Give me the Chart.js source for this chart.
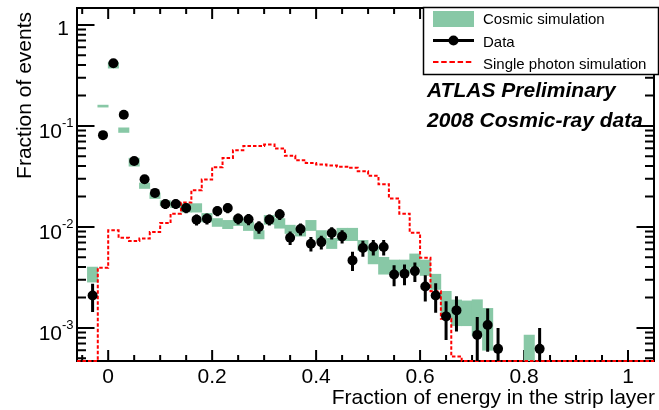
<!DOCTYPE html>
<html>
<head>
<meta charset="utf-8">
<script src="https://cdn.jsdelivr.net/npm/chart.js@4.4.1/dist/chart.umd.min.js"></script>
<style>
  html, body { margin: 0; padding: 0; background: #fff; }
  #wrap { width: 659px; height: 410px; }
</style>
</head>
<body>
<div id="wrap"><canvas id="stripCanvas" width="659" height="410"></canvas></div>
<script>
// Data points (bin centres), values and stat. errors
const dataX = [-0.03, -0.01, 0.01, 0.03, 0.05, 0.07, 0.09, 0.11, 0.13, 0.15,
    0.17, 0.19, 0.21, 0.23, 0.25, 0.27, 0.29, 0.31, 0.33, 0.35,
    0.37, 0.39, 0.41, 0.43, 0.45, 0.47, 0.49, 0.51, 0.53, 0.55,
    0.57, 0.59, 0.61, 0.63, 0.65, 0.67, 0.71, 0.73, 0.75, 0.83]
const dataY = [0.00209, 0.081, 0.417, 0.1288, 0.045, 0.0296, 0.0217, 0.01685, 0.01685, 0.01538,
    0.0118, 0.01207, 0.01436, 0.01538, 0.01207, 0.01188, 0.00996, 0.0118, 0.01332, 0.00782,
    0.00952, 0.00682, 0.00707, 0.00869, 0.00805, 0.00466, 0.00617, 0.00631, 0.00631, 0.00338,
    0.00344, 0.00365, 0.00257, 0.00209, 0.0013, 0.00149, 0.000852, 0.00107, 0.00062, 0.00062]
const dataErr = [0.00065, 0.004, 0.009, 0.005, 0.003, 0.0024, 0.002, 0.0018, 0.0018, 0.0017,
    0.0015, 0.0015, 0.0016, 0.0017, 0.0015, 0.0015, 0.0014, 0.0015, 0.0016, 0.0012,
    0.0013, 0.0011, 0.0011, 0.0012, 0.0012, 0.001, 0.0011, 0.0011, 0.0011, 0.0008,
    0.0008, 0.0008, 0.00075, 0.00068, 0.00054, 0.00057, 0.00043, 0.00049, 0.00038, 0.00038]

// Cosmic simulation band (bin centre, value, half height)
const simX = [-0.03, -0.01, 0.01, 0.03, 0.05, 0.07, 0.09, 0.11, 0.13, 0.15,
    0.17, 0.19, 0.21, 0.23, 0.25, 0.27, 0.29, 0.31, 0.33, 0.35,
    0.37, 0.39, 0.41, 0.43, 0.45, 0.47, 0.49, 0.51, 0.53, 0.55,
    0.57, 0.59, 0.61, 0.63, 0.65, 0.67, 0.69, 0.71, 0.73, 0.81]
const simY = [0.00342, 0.157, 0.40, 0.0909, 0.0439, 0.0256, 0.0204, 0.0172, 0.0165, 0.0155,
    0.0155, 0.0124, 0.0111, 0.0106, 0.0113, 0.0102, 0.0084, 0.0118, 0.0109, 0.0095,
    0.0089, 0.0104, 0.0083, 0.0069, 0.0085, 0.0085, 0.0066, 0.0053, 0.0042, 0.0041,
    0.0041, 0.0047, 0.0040, 0.0029, 0.0018, 0.00147, 0.00145, 0.00137, 0.00108, 0.00048]
const simErr = [0.00058, 0.0036, 0.027, 0.0048, 0.004, 0.0016, 0.0013, 0.001, 0.001, 0.0015,
    0.0015, 0.0012, 0.001, 0.001, 0.001, 0.001, 0.0008, 0.0012, 0.0012, 0.0009,
    0.0008, 0.0012, 0.0009, 0.0008, 0.0012, 0.0012, 0.00075, 0.001, 0.0008, 0.0006,
    0.0006, 0.0007, 0.0007, 0.0005, 0.0005, 0.00042, 0.0004, 0.00053, 0.00048, 0.00037]

// Single photon simulation, left bin edges and contents
const photonEdges = [-0.06, -0.04, -0.02, 0, 0.02, 0.04, 0.06, 0.08, 0.10, 0.12,
    0.14, 0.16, 0.18, 0.20, 0.22, 0.24, 0.26, 0.28, 0.30, 0.32,
    0.34, 0.36, 0.38, 0.40, 0.42, 0.44, 0.46, 0.48, 0.50, 0.52,
    0.54, 0.56, 0.58, 0.60, 0.62, 0.64, 0.66, 0.68, 0.70, 0.72,
    0.74, 0.76, 0.78, 0.80, 0.82, 0.84, 0.86, 0.88, 0.90, 0.92,
    0.94, 0.96, 0.98, 1.00, 1.02, 1.04]
const photonY = [0, 0, 0.00394, 0.00924, 0.00782, 0.00724, 0.00769, 0.00889, 0.0109, 0.01353,
    0.0174, 0.02305, 0.02943, 0.039, 0.0481, 0.0575, 0.0634, 0.0634, 0.0655, 0.0598,
    0.0505, 0.0457, 0.043, 0.0414, 0.0405, 0.0393, 0.0384, 0.0356, 0.032, 0.0264,
    0.0191, 0.01353, 0.00877, 0.00495, 0.00231, 0.00123, 0.00052, 0, 0, 0,
    0, 0, 0, 0, 0, 0, 0, 0, 0, 0,
    0, 0, 0, 0, 0, 0]
const binWidth = 0.02

// Axes
const xMin = -0.06, xMax = 1.05
const yMin = 0.00047, yMax = 1.47
const xMajorTicks = [0, 0.2, 0.4, 0.6, 0.8, 1]
const xTickLabels = ['0', '0.2', '0.4', '0.6', '0.8', '1']
const yMajorTicks = [0.001, 0.01, 0.1, 1]
const yTickLabels = [['10', '-3'], ['10', '-2'], ['10', '-1'], ['1', '']]

const simColor = '#88c8a6'
const photonColor = '#ff0000'
const font = '"Liberation Sans", Arial, Helvetica, sans-serif'

const simBars = simX.map((x, i) => ({ x: x, y: [simY[i] - simErr[i], simY[i] + simErr[i]] }))
const photonLine = photonEdges.map((x, i) => ({ x: x, y: photonY[i] > 0 ? photonY[i] : yMin }))
photonLine.push({ x: photonEdges[photonEdges.length - 1] + binWidth, y: photonLine[photonLine.length - 1].y })
const dataPoints = dataX.map((x, i) => ({ x: x, y: dataY[i] }))

const frameAndTicks = {
    id: 'frameAndTicks',
    beforeDatasetsDraw(chart) {
        const { ctx, chartArea: a, scales: { x, y } } = chart
        ctx.save()
        ctx.strokeStyle = '#000'
        ctx.lineWidth = 2
        ctx.strokeRect(a.left, a.top, a.right - a.left, a.bottom - a.top)

        ctx.beginPath()
        for (let k = -1; k <= 21; k++) {
            const v = k * 0.05
            if (v < xMin || v > xMax) continue
            const px = x.getPixelForValue(v)
            const len = (k % 4 === 0) ? 11 : 6
            ctx.moveTo(px, a.bottom); ctx.lineTo(px, a.bottom - len)
            ctx.moveTo(px, a.top); ctx.lineTo(px, a.top + len)
        }
        for (let e = -4; e <= 0; e++) {
            for (let m = 1; m <= 9; m++) {
                const v = m * Math.pow(10, e)
                if (v < yMin || v > yMax) continue
                const py = y.getPixelForValue(v)
                const len = m === 1 ? 17.5 : 9
                ctx.moveTo(a.left, py); ctx.lineTo(a.left + len, py)
                ctx.moveTo(a.right, py); ctx.lineTo(a.right - len, py)
            }
        }
        ctx.stroke()
        ctx.restore()
    }
}

const errorBars = {
    id: 'errorBars',
    afterDatasetsDraw(chart) {
        const { ctx, chartArea: a, scales: { x, y } } = chart
        ctx.save()
        ctx.beginPath()
        ctx.rect(a.left, a.top, a.right - a.left, a.bottom - a.top)
        ctx.clip()
        ctx.strokeStyle = '#000'
        ctx.lineWidth = 3
        ctx.beginPath()
        dataX.forEach((v, i) => {
            const px = x.getPixelForValue(v)
            const top = y.getPixelForValue(dataY[i] + dataErr[i])
            const lo = dataY[i] - dataErr[i]
            const bottom = lo > 0 ? y.getPixelForValue(lo) : a.bottom + 5
            ctx.moveTo(px, top); ctx.lineTo(px, bottom)
        })
        ctx.stroke()
        ctx.restore()
    }
}

const labelsAndLegend = {
    id: 'labelsAndLegend',
    afterDraw(chart) {
        const { ctx, chartArea: a, scales: { x, y } } = chart
        ctx.save()
        ctx.fillStyle = '#000'

        // x tick labels
        ctx.font = '21px ' + font
        ctx.textAlign = 'center'
        ctx.textBaseline = 'alphabetic'
        xMajorTicks.forEach((v, i) => ctx.fillText(xTickLabels[i], x.getPixelForValue(v), 383))

        // y tick labels
        yMajorTicks.forEach((v, i) => {
            const py = y.getPixelForValue(v)
            const [base, sup] = yTickLabels[i]
            if (!sup) {
                ctx.font = '21px ' + font
                ctx.textAlign = 'right'
                ctx.fillText(base, 69, py + 10)
                return
            }
            ctx.font = '13px ' + font
            ctx.textAlign = 'left'
            ctx.fillText(sup, 62, py + 1)
            ctx.font = '21px ' + font
            ctx.textAlign = 'right'
            ctx.fillText(base, 62, py + 12)
        })

        // axis titles
        ctx.font = '21px ' + font
        ctx.textAlign = 'right'
        ctx.fillText('Fraction of energy in the strip layer', 655, 404)
        ctx.save()
        ctx.translate(31, 12)
        ctx.rotate(-Math.PI / 2)
        ctx.textAlign = 'right'
        ctx.fillText('Fraction of events', 0, 0)
        ctx.restore()

        // legend box
        ctx.fillStyle = '#fff'
        ctx.fillRect(423.5, 7.5, 235, 67)
        ctx.strokeStyle = '#000'
        ctx.lineWidth = 1.5
        ctx.strokeRect(423.5, 7.5, 235, 67)

        ctx.fillStyle = simColor
        ctx.fillRect(433, 11, 41, 16)

        ctx.strokeStyle = '#000'
        ctx.lineWidth = 3
        ctx.beginPath(); ctx.moveTo(433, 40.5); ctx.lineTo(474, 40.5); ctx.stroke()
        ctx.fillStyle = '#000'
        ctx.beginPath(); ctx.arc(453.5, 40.5, 5, 0, Math.PI * 2); ctx.fill()

        ctx.strokeStyle = photonColor
        ctx.lineWidth = 2
        ctx.setLineDash([5.5, 2.7])
        ctx.beginPath(); ctx.moveTo(433, 62); ctx.lineTo(474, 62); ctx.stroke()
        ctx.setLineDash([])

        ctx.fillStyle = '#000'
        ctx.font = '15px ' + font
        ctx.textAlign = 'left'
        ctx.fillText('Cosmic simulation', 483, 24.3)
        ctx.fillText('Data', 483, 46.7)
        ctx.fillText('Single photon simulation', 483, 69)

        ctx.font = 'italic bold 21px ' + font
        ctx.fillText('ATLAS Preliminary', 427, 97)
        ctx.fillText('2008 Cosmic-ray data', 427, 127)
        ctx.restore()
    }
}

const stripCanvas = document.querySelector('#stripCanvas')

const config = {
    type: 'bar',
    data: {
        datasets: [{
            type: 'scatter',
            label: 'Data',
            data: dataPoints,
            pointRadius: 5,
            pointBackgroundColor: '#000',
            pointBorderWidth: 0,
            order: 0
        }, {
            type: 'line',
            label: 'Single photon simulation',
            data: photonLine,
            stepped: 'before',
            borderColor: photonColor,
            borderWidth: 2,
            borderDash: [3.5, 2],
            pointRadius: 0,
            fill: false,
            clip: { left: 0, top: 0, right: 0, bottom: 2 },
            order: 1
        }, {
            type: 'bar',
            label: 'Cosmic simulation',
            data: simBars,
            backgroundColor: simColor,
            borderWidth: 0,
            barPercentage: 1,
            categoryPercentage: 1,
            order: 2
        }]
    },
    options: {
        responsive: false,
        animation: false,
        devicePixelRatio: 1,
        layout: { padding: { left: 77, right: 2, top: 8, bottom: 49 } },
        plugins: {
            legend: { display: false },
            tooltip: { enabled: false }
        },
        scales: {
            x: {
                type: 'linear',
                min: xMin,
                max: xMax,
                offset: false,
                display: false,
                grid: { offset: false }
            },
            y: {
                type: 'logarithmic',
                min: yMin,
                max: yMax,
                display: false
            }
        }
    },
    plugins: [frameAndTicks, errorBars, labelsAndLegend]
}

new Chart(stripCanvas, config)
</script>
</body>
</html>
